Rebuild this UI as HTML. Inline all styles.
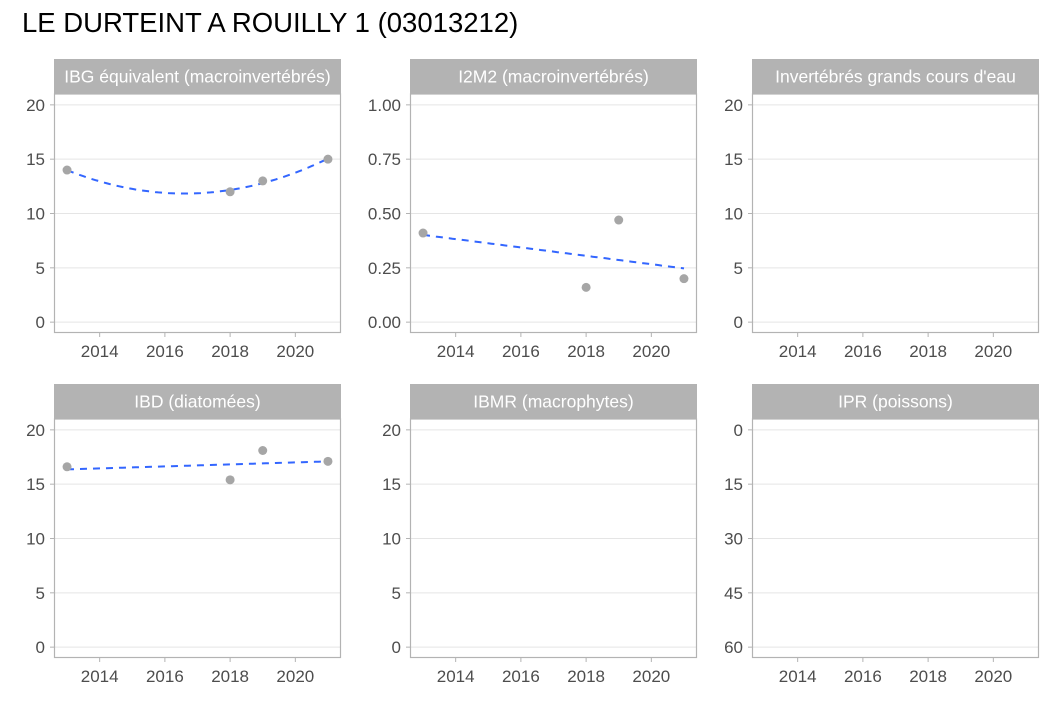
<!DOCTYPE html>
<html><head><meta charset="utf-8"><style>
body{margin:0;background:#fff;font-family:"Liberation Sans",sans-serif;}
svg text{font-family:"Liberation Sans",sans-serif;}
</style></head><body>
<svg id="c" width="1062" height="708" xmlns="http://www.w3.org/2000/svg">
<text x="22" y="32" font-size="27.5" fill="#000">LE DURTEINT A ROUILLY 1 (03013212)</text>
</svg>
<script>
const years = [2013, 2018, 2019, 2021];
const ibgValues = [14, 12, 13, 15];
const i2m2Values = [0.41, 0.16, 0.47, 0.2];
const ibdValues = [16.6, 15.4, 18.1, 17.1];
const xTicks = [2014, 2016, 2018, 2020];
const ticks20 = [0, 5, 10, 15, 20];
const ticks1 = [0, 0.25, 0.5, 0.75, 1];
const ticksIpr = [0, 15, 30, 45, 60];
const tickLabels1 = ["0.00", "0.25", "0.50", "0.75", "1.00"];
const titles = ["IBG équivalent (macroinvertébrés)", "I2M2 (macroinvertébrés)", "Invertébrés grands cours d'eau", "IBD (diatomées)", "IBMR (macrophytes)", "IPR (poissons)"];

const svg = document.getElementById('c');
const NS = 'http://www.w3.org/2000/svg';
function mk(tag, at, parent) { const e = document.createElementNS(NS, tag); for (const k in at) e.setAttribute(k, at[k]); (parent || svg).appendChild(e); return e; }

function fitPoly(xs, ys, deg) {
  const m = xs.reduce((a, b) => a + b, 0) / xs.length;
  const n = deg + 1; const A = []; const B = [];
  for (let i = 0; i < n; i++) { A.push(new Array(n).fill(0)); B.push(0); }
  xs.forEach((x, k) => { const t = x - m; for (let i = 0; i < n; i++) { for (let j = 0; j < n; j++) A[i][j] += Math.pow(t, i + j); B[i] += ys[k] * Math.pow(t, i); } });
  for (let i = 0; i < n; i++) { for (let r = i + 1; r < n; r++) { const f = A[r][i] / A[i][i]; for (let j = i; j < n; j++) A[r][j] -= f * A[i][j]; B[r] -= f * B[i]; } }
  const c = new Array(n).fill(0);
  for (let i = n - 1; i >= 0; i--) { let s = B[i]; for (let j = i + 1; j < n; j++) s -= A[i][j] * c[j]; c[i] = s / A[i][i]; }
  return x => c.reduce((s, ci, i) => s + ci * Math.pow(x - m, i), 0);
}

const cols = [54, 410, 752], W = 287;
const rows = [{ s: 59, p: 94, b: 333 }, { s: 384, p: 419, b: 658 }];
const panels = [
  { ticks: ticks20, labels: null, min: -1, max: 21, vals: ibgValues, deg: 2, rev: false },
  { ticks: ticks1, labels: tickLabels1, min: -0.05, max: 1.05, vals: i2m2Values, deg: 1, rev: false },
  { ticks: ticks20, labels: null, min: -1, max: 21, vals: null, rev: false },
  { ticks: ticks20, labels: null, min: -1, max: 21, vals: ibdValues, deg: 1, rev: false },
  { ticks: ticks20, labels: null, min: -1, max: 21, vals: null, rev: false },
  { ticks: ticksIpr, labels: null, min: -3, max: 63, vals: null, rev: true }
];
panels.forEach((p, i) => {
  const x0 = cols[i % 3], r = rows[Math.floor(i / 3)];
  const g = mk('g', {});
  
  
  const xs = v => x0 + (v - 2012.6) / 8.8 * W;
  const ys = v => p.rev ? r.p + (v - p.min) / (p.max - p.min) * (r.b - r.p) : r.b - (v - p.min) / (p.max - p.min) * (r.b - r.p);
  const strip = mk('rect', { x: x0, y: r.s, width: W, height: r.p - r.s, fill: '#b3b3b3' }, g);
  
  
  const st = mk('text', { x: x0 + W / 2, y: r.s + 23.5, 'font-size': 17.5, fill: '#fff', 'text-anchor': 'middle' }, g);
  st.textContent = titles[i];
  
  
  p.ticks.forEach((t, k) => {
    const y = ys(t);
    mk('line', { x1: x0, x2: x0 + W, y1: y, y2: y, stroke: '#e5e5e5', 'stroke-width': 1 }, g);
    mk('line', { x1: x0 - 4, x2: x0, y1: y, y2: y, stroke: '#b3b3b3' }, g);
    const tl = mk('text', { x: x0 - 9, y: y + 6, 'font-size': 17, fill: '#4d4d4d', 'text-anchor': 'end' }, g);
    tl.textContent = p.labels ? p.labels[k] : String(t);
    
    
  });
  xTicks.forEach(t => {
    const x = xs(t);
    mk('line', { x1: x, x2: x, y1: r.b, y2: r.b + 4, stroke: '#b3b3b3' }, g);
    const tl = mk('text', { x: x, y: r.b + 24, 'font-size': 17, fill: '#4d4d4d', 'text-anchor': 'middle' }, g);
    tl.textContent = String(t);
    
    
  });
  mk('rect', { x: x0 + 0.5, y: r.p, width: W - 1, height: r.b - r.p - 0.5, fill: 'none', stroke: '#b3b3b3', 'stroke-width': 1.2 }, g);
  if (p.vals) {
    const f = fitPoly(years, p.vals, p.deg);
    let d = '';
    for (let k = 0; k <= 80; k++) { const yr = 2013 + 8 * k / 80; d += (k ? 'L' : 'M') + xs(yr).toFixed(1) + ',' + ys(f(yr)).toFixed(1); }
    const tr = mk('path', { d: d, fill: 'none', stroke: '#3366ff', 'stroke-width': 2, 'stroke-dasharray': '7 6' }, g);
    
    
    years.forEach((yr, k) => {
      const c = mk('circle', { cx: xs(yr), cy: ys(p.vals[k]), r: 4.5, fill: '#a6a6a6' }, g);
      
      
    });
  }
});
</script>
</body></html>
